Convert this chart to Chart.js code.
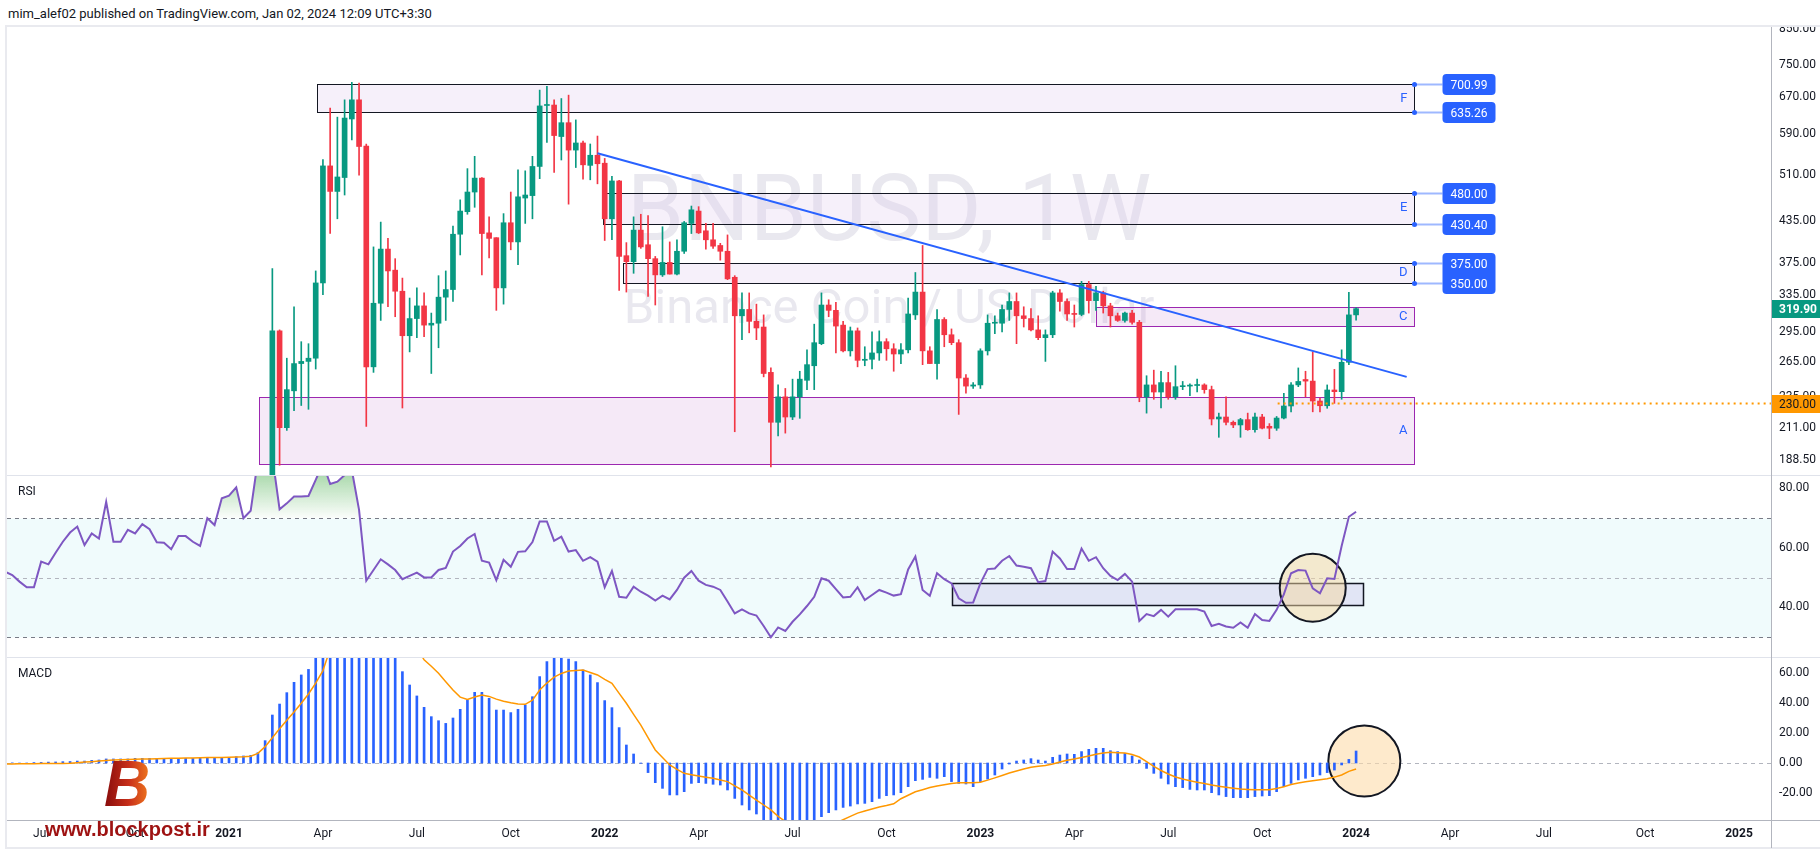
<!DOCTYPE html>
<html lang="en">
<head>
<meta charset="utf-8">
<title>BNBUSD, 1W</title>
<script src="https://cdn.jsdelivr.net/npm/chart.js@4.4.1/dist/chart.umd.min.js"></script>
<style>
  html, body { margin: 0; padding: 0; background: #ffffff; }
  body { position: relative; width: 1820px; height: 860px; overflow: hidden; font-family: Roboto, "Noto Sans", sans-serif; color: #131722; }
  .abs { position: absolute; }
  #frame { left: 5px; top: 25px; width: 1815px; height: 824px; border: 2px solid #e9eaef; border-right: none; box-sizing: border-box; }
  .sep { position: absolute; background: #e0e3eb; }
  #header { left: 8px; top: 6px; font-size: 13px; line-height: 16px; white-space: nowrap; }
  .wm { left: 7px; width: 1764px; text-align: center; color: #e9e8ef; white-space: nowrap; line-height: 1; }
  #wm1 { top: 163px; font-size: 92px; }
  #wm2 { top: 282px; font-size: 49px; }
  canvas { position: absolute; left: 7px; }
  .pane-title { left: 18px; font-size: 12px; line-height: 14px; }
  #logoB { left: 104px; top: 752px; font: italic bold 64px "Liberation Sans", "DejaVu Sans", sans-serif; line-height: 64px;
           background: linear-gradient(90deg, #860b0b 0%, #c9301a 55%, #f07a1e 100%); -webkit-background-clip: text; background-clip: text; color: transparent; }
  #logoText { left: 45px; top: 819px; font: bold 20px "Liberation Sans", sans-serif; line-height: 20px; color: #9e1212; white-space: nowrap; }
</style>
</head>
<body>
<div id="frame" class="abs"></div>
<div id="header" class="abs">mim_alef02 published on TradingView.com, Jan 02, 2024 12:09 UTC+3:30</div>
<div id="wm1" class="abs wm">BNBUSD, 1W</div>
<div id="wm2" class="abs wm">Binance Coin / US Dollar</div>
<div class="sep" style="left:7px; top:475px; width:1813px; height:1px;"></div>
<div class="sep" style="left:7px; top:657px; width:1813px; height:1px;"></div>
<div class="sep" style="left:7px; top:820px; width:1813px; height:1px; background:#b2b5be;"></div>
<div class="sep" style="left:1771px; top:27px; width:1px; height:821px; background:#b2b5be;"></div>
<canvas id="priceChart" width="1813" height="448" style="top:27px"></canvas>
<canvas id="rsiChart" width="1813" height="181" style="top:476px"></canvas>
<canvas id="macdChart" width="1813" height="190" style="top:658px"></canvas>
<div class="abs pane-title" style="top:484px">RSI</div>
<div class="abs pane-title" style="top:666px">MACD</div>
<div id="logoB" class="abs">B</div>
<div id="logoText" class="abs">www.blockpost.ir</div>
<script>
// Weekly bars, x = days from 1 Jan 2021 (bar opens on Monday)
const FIRST_MONDAY = -214;   // 1 Jun 2020
const weekDays = Array.from({ length: 188 }, (_, k) => FIRST_MONDAY + 7 * k);
const CANDLE_OFFSET = 37;    // first candle in view: 15 Feb 2021

const open = [
  130,296,211,240,264,266,269,350,527,482,
  506,621,664,565,261,326,394,366,340,291,
  309,323,302,304,333,342,415,449,481,505,
  417,410,344,432,404,471,475,526,651,652,
  584,613,557,571,528,547,532,438,500,385,
  377,421,400,381,360,376,361,391,431,450,
  420,407,399,391,357,312,319,306,300,256,
  215,235,219,235,249,262,283,324,318,302,
  276,296,267,268,274,285,278,273,277,313,
  339,276,264,308,292,284,251,244,245,276,
  304,304,319,328,312,309,297,289,292,338,
  328,314,313.5,348,329,338,323,312,307,315,
  305,235,245,239,247,235,243.5,244,244.5,245,
  241,217.5,219,215,213,217,209.5,219,212,210.6,
  218.2,227.6,245,249.7,248.3,231.6,227.8,240.7,239.3,265.2,
  313
];
const high = [
  368,297,269,322,285,283,365,539,645,625,
  664,706,704,569,397,433,409,381,356,332,
  344,338,315,359,365,427,468,522,545,506,
  441,410,446,481,520,518,545,687,696,664,
  667,675,619,575,569,585,541,508,501,403,
  441,445,443,384,426,404,407,434,458,457,
  431,431,402,414,359,338,338,325,313,260,
  245,242,250,257,277,303,338,330,327,306,
  300,299,280,295,296,288,283,283,332,363,
  399,280,319,310,298,287,254,247,278,313,
  312,324,338,338,322,320,312,297,340,342,
  331,324,352,352,346,340,326,315,316,318,
  307,253,258,257,256,262,248,246,250,246,
  244,222,235,216,218,222,222,221,214,219.4,
  238,247,260,257,275,234,245,258.7,277,338.8,
  321
];
const low = [
  125,185,209,224,228,225,259,336,416,438,
  476,577,510,212,256,307,322,311,226,275,
  289,290,255,279,307,328,386,445,456,360,
  382,318,325,393,373,431,438,504,572,515,
  538,461,524,503,502,495,406,407,341,339,
  362,395,334,324,358,361,360,388,416,416,
  394,395,379,354,208,287,294,287,252,184,
  205,207,217,218,241,241,282,311,274,275,
  271,261,262,259,267,267,257,264,274,308,
  263,264,250,280,282,221,238,242,242,272,
  293,295,307,283,300,296,287,266,289,317,
  307,300,312,315,318,315,300,306,305,303,
  231,222,233,226,233,233,241,236,239,238,
  213,204,213,211,204,209,207.6,210,203,209,
  217.5,223,243.5,235,223,223,225.8,229.7,233,263,
  307.4
];
const close = [
  296,211,241,264,266,269,350,527,482,507,
  623,664,564,261,326,394,365,340,291,309,
  323,302,304,333,342,415,450,481,505,416,
  409,344,432,404,473,476,526,650,652,586,
  613,557,571,529,547,531,438,500,384,377,
  421,397,381,360,376,361,391,432,452,417,
  407,398,391,355,312,319,306,299,255,215,
  235,219,235,250,263,284,324,318,301,276,
  296,267,268,274,285,278,273,277,314,339,
  276,264,308,292,284,251,244,245,276,304,
  304.4,319,328,312,309,297,289,292,338,328,
  314,313.5,348,329,338,323,312,307,315,305,
  235,245,239,247,235,243.5,244,244.5,245,241,
  217.5,219,215,213,217,209.5,219,210.6,210.6,218.2,
  227.6,245,248,248.3,231.6,227.8,240.7,239.3,265.2,313,
  319.9
];

const rsi = [
  52,50.9,48.7,46.8,46.8,55.4,54.5,58.4,62.1,65.2,
  67.2,61.0,64.9,63.2,75.5,62.1,62.1,66.1,64.9,68.0,
  66.3,61.9,61.8,59.6,64.0,64.0,62.1,60.7,70.0,67.7,
  76.7,77.6,80.4,70.0,72.5,89.6,91.8,90.7,73.0,75.0,
  77.3,77.3,77.5,82.9,88.5,81.5,82.3,84.5,86.2,72.8,
  49.0,52.6,56.2,54.5,52.6,49.5,50.6,51.7,50.1,50.1,
  52.6,53.3,58.8,60.7,63.2,64.7,55.7,55.1,49.2,56.0,
  53.7,58.7,58.9,62.0,68.9,68.9,62.4,63.8,58.8,59.3,
  55.7,56.9,55.4,46.8,52.3,43.6,43.3,47.0,45.3,44.0,
  42.3,44.0,42.7,45.9,50.0,52.3,49.0,47.6,47.0,45.9,
  42.0,38.0,39.4,38.0,37.3,33.8,30.0,33.3,32.1,35.2,
  37.7,40.5,43.6,49.8,49.0,46.2,43.4,43.6,46.8,42.5,
  44.2,45.9,45.0,44.0,44.5,52.8,57.1,45.9,43.9,51.5,
  49.5,48.1,43.1,41.6,41.7,48.1,52.9,53.1,55.7,57.3,
  54.1,53.7,53.2,48.5,48.9,58.8,56.5,52.9,52.9,59.8,
  55.7,56.9,53.2,50.6,49.2,51.3,48.7,35.5,37.8,37.1,
  39.2,36.9,39.4,39.4,39.4,39.4,38.6,33.8,34.5,33.6,
  33.2,35.0,33.2,37.8,35.8,35.5,39.2,44.4,51.5,52.6,
  52.4,46.4,44.8,49.8,49.6,60.7,70.5,72.2
];

const macd = [
  0.2,0.1,0.0,-0.2,0.3,0.4,0.6,0.7,0.9,1.0,
  1.3,1.3,1.8,2.0,2.7,2.7,2.7,2.7,3.1,3.1,
  3.1,3.1,3.1,3.1,3.1,3.1,3.1,3.1,3.1,3.3,
  3.6,3.8,4.2,4.7,5.1,6.9,14.9,32.0,39.3,46.9,
  53.8,58.7,62.4,80,95,110,125,135,140,140,
  135,125,110,95,78,60.9,52.0,44.7,37.1,30.9,
  28.2,26.4,30.0,35.8,42.0,47.1,47.1,43.1,35.3,35.3,
  33.6,35.8,38.7,44.2,57.6,67.6,69.8,70.4,69.3,67.6,
  62.0,58.7,53.6,41.6,36.9,23.6,12.0,6.0,-0.2,-6.4,
  -13.1,-16.9,-21.3,-21.3,-19.1,-13.6,-13.1,-13.6,-14.2,-14.7,
  -18.0,-23.6,-28.0,-31.3,-34.0,-39,-43,-46,-48,-48,
  -46,-43,-40,-35.8,-33.1,-31.3,-29.6,-28.7,-27.3,-26.9,
  -25.8,-23.6,-21.8,-21.3,-19.8,-15.8,-11.8,-10.9,-9.6,-10.2,
  -9.1,-12.4,-13.6,-14.0,-15.8,-12.4,-10.7,-8.0,-4.0,-0.7,
  1.3,2.0,2.9,2.0,1.3,3.8,5.3,6.0,5.8,7.6,
  9.1,9.8,9.8,8.2,7.6,6.4,4.7,2.0,-3.6,-6.9,
  -10.2,-14.0,-15.8,-16.4,-17.6,-18.0,-18.0,-19.8,-21.3,-22.4,
  -23.1,-23.1,-23.1,-22.4,-22.0,-21.8,-19.1,-15.8,-13.6,-11.3,
  -10.2,-9.1,-8.0,-6.4,-4.7,-1.3,2.4,8.0
];
const signal = [
  -0.6,-0.6,-0.5,-0.5,-0.5,-0.4,-0.4,-0.3,-0.3,-0.2,
  0.2,0.6,0.9,1.3,1.7,2.0,2.2,2.3,2.5,2.6,
  2.7,2.9,3.0,3.1,3.2,3.3,3.4,3.5,3.6,3.6,
  3.7,3.8,4.0,4.1,4.5,6.4,10.9,16.8,22.9,28.5,
  34.0,39.8,46.0,53.2,61.6,76,86,95,103,109,
  113,115,114,110,103,95,86,77,68.8,64.5,
  59.8,54.2,48.7,43.9,42.4,44.0,45.3,44.4,42.6,41.2,
  40.1,39.3,39.1,41.9,48.7,53.3,57.2,59.7,61.3,61.7,
  62.0,60.3,58.7,55.8,53.1,46.4,39.8,32.4,25.3,16.9,
  8.7,3.6,-1.3,-4.2,-6.9,-7.8,-8.7,-9.5,-10.2,-11.3,
  -12.4,-15.2,-18.0,-21.4,-24.7,-28.0,-31.3,-35.6,-39,-42,
  -44,-45,-45,-44,-42,-40,-37.8,-35.6,-33.4,-32.0,
  -30.7,-29.4,-28.4,-27.2,-23.8,-21.5,-19.2,-17.8,-16.4,-15.3,
  -14.5,-13.6,-13.1,-13.1,-13.1,-12.8,-11.4,-9.9,-8.3,-6.7,
  -5.3,-4.0,-2.9,-2.2,-1.6,-0.6,0.6,1.8,2.7,3.6,
  4.7,5.9,6.6,7.1,6.9,6.6,5.6,4.0,0.9,-2.2,
  -5.0,-7.3,-9.3,-10.7,-11.8,-12.8,-13.7,-14.6,-15.5,-16.2,
  -16.8,-17.3,-17.6,-17.8,-17.9,-17.8,-17.0,-15.8,-14.4,-13.3,
  -12.5,-11.8,-11.1,-10.5,-9.4,-8.0,-5.6,-4.0
];

// axis ticks (first weekly bar of each quarter)
const timeTickDays = [-179, -88, 3, 94, 185, 276, 367, 458, 549, 640, 731, 822, 913, 1004, 1095, 1186, 1277, 1375, 1466];
const timeTickLabels = ['Jul','Oct','2021','Apr','Jul','Oct','2022','Apr','Jul','Oct','2023','Apr','Jul','Oct','2024','Apr','Jul','Oct','2025'];
const priceTicks = [188.5, 211, 235, 265, 295, 335, 375, 435, 510, 590, 670, 750, 850];
const rsiTicks = [40, 60, 80];
const macdTicks = [-20, 0, 20, 40, 60];

// drawings
const zoneNames = ['F', 'E', 'D', 'C', 'A'];
const zoneHigh = [700.99, 480.00, 375.00, 322, 235];
const zoneLow = [635.26, 430.40, 350.00, 301, 186];
const zoneFromDay = [88, 365, 385, 843, 32];
const zoneToDay = 1151;
const zoneLabelled = [true, true, true, false, false];
const trendDays = [360, 1144];
const trendPrices = [551, 252];
const levelPrice = 230;
const levelFromDay = 1019;
const rsiBoxDays = [703.5, 1101.7];
const rsiBoxValues = [48.3, 40.7];
const rsiMark = [1053, 46.6];
const macdMark = [1103, 1.3];

// view ranges
const X_MIN = -212.1, X_MAX = 1497;
const PRICE_MIN = 178.8, PRICE_MAX = 856.6;
const RSI_MIN = 23.36, RSI_MAX = 84.2;
const MACD_MIN = -38, MACD_MAX = 70;

const UP = '#089981', DOWN = '#f23645', BLUE = '#2962ff';
const ZONE_FILL = ['rgba(225,205,240,0.3)', 'rgba(225,205,240,0.3)', 'rgba(225,205,240,0.3)', 'rgba(206,147,216,0.2)', 'rgba(206,147,216,0.2)'];
const ZONE_LINE = ['#131722', '#131722', '#131722', '#9c27b0', '#9c27b0'];

Chart.defaults.font.family = 'Roboto, "Noto Sans", sans-serif';
Chart.defaults.font.size = 12;
Chart.defaults.color = '#131722';
Chart.defaults.animation = false;
Chart.defaults.plugins.legend.display = false;
Chart.defaults.plugins.tooltip.enabled = false;

function xAxis(show) {
  return {
    type: 'linear', min: X_MIN, max: X_MAX, offset: false, display: show,
    grid: { display: false, drawTicks: false, offset: false },
    border: { display: false },
    ticks: {
      autoSkip: false, maxRotation: 0, padding: 7, color: '#131722',
      font: ctx => {
        const i = ctx.tick ? timeTickDays.indexOf(ctx.tick.value) : -1;
        return { size: 12, weight: i >= 0 && /^\d{4}$/.test(timeTickLabels[i]) ? 'bold' : 'normal' };
      },
      callback: v => {
        const i = timeTickDays.indexOf(v);
        return i >= 0 ? timeTickLabels[i] : '';
      }
    },
    afterBuildTicks: s => { s.ticks = timeTickDays.map(v => ({ value: v })); },
    afterFit: s => {
      s.height = show ? 28 : 0;
      s.paddingLeft = 0;
      s.paddingRight = 0;
    }
  };
}

function yAxis(type, min, max, ticks) {
  return {
    type: type, position: 'right', min: min, max: max,
    grid: { display: false, drawTicks: false },
    border: { display: false },
    ticks: { autoSkip: false, padding: 8, color: '#131722', font: { size: 12 }, callback: v => Number(v).toFixed(2) },
    afterBuildTicks: s => { s.ticks = ticks.map(v => ({ value: v })); },
    afterFit: s => { s.width = 49; s.paddingTop = 0; s.paddingBottom = 0; }
  };
}

function tag(ctx, x0, py, text, bg, fg, bold) {
  ctx.fillStyle = bg;
  ctx.fillRect(x0, Math.round(py) - 9, 49, 18);
  ctx.fillStyle = fg;
  ctx.font = (bold ? 'bold ' : '') + '12px Roboto, sans-serif';
  ctx.textAlign = 'left';
  ctx.textBaseline = 'middle';
  ctx.fillText(text, x0 + 7, Math.round(py) + 1);
}

const priceDecor = {
  id: 'priceDecor',
  beforeDatasetsDraw(chart) {
    const { ctx, scales: { x, y } } = chart;
    ctx.save();
    zoneNames.forEach((name, i) => {
      const x1 = Math.round(x.getPixelForValue(zoneFromDay[i])) + 0.5;
      const x2 = Math.round(x.getPixelForValue(zoneToDay)) + 0.5;
      const y1 = Math.round(y.getPixelForValue(zoneHigh[i])) + 0.5;
      const y2 = Math.round(y.getPixelForValue(zoneLow[i])) + 0.5;
      ctx.fillStyle = ZONE_FILL[i];
      ctx.fillRect(x1, y1, x2 - x1, y2 - y1);
      ctx.strokeStyle = ZONE_LINE[i];
      ctx.lineWidth = 1;
      ctx.strokeRect(x1, y1, x2 - x1, y2 - y1);
    });
    ctx.restore();
  },
  afterDatasetsDraw(chart) {
    const { ctx, chartArea: a, scales: { x, y } } = chart;
    ctx.save();
    const xr = Math.round(x.getPixelForValue(zoneToDay)) + 0.5;

    // zone letters
    ctx.font = '13px Roboto, sans-serif';
    ctx.textAlign = 'right';
    ctx.textBaseline = 'middle';
    ctx.fillStyle = BLUE;
    zoneNames.forEach((name, i) => {
      const y1 = y.getPixelForValue(zoneHigh[i]);
      const y2 = y.getPixelForValue(zoneLow[i]);
      ctx.fillText(name, xr - 7, (y1 + y2) / 2);
    });

    // price range labels
    zoneNames.forEach((name, i) => {
      if (!zoneLabelled[i]) return;
      const ys = [Math.round(y.getPixelForValue(zoneHigh[i])) + 0.5, Math.round(y.getPixelForValue(zoneLow[i])) + 0.5];
      const bx = xr + 28, bw = 53, bh = 21;
      ctx.strokeStyle = 'rgba(41,98,255,0.45)';
      ctx.lineWidth = 2;
      ys.forEach(py => { ctx.beginPath(); ctx.moveTo(xr, py); ctx.lineTo(bx, py); ctx.stroke(); });
      ctx.fillStyle = BLUE;
      ys.forEach(py => { ctx.beginPath(); ctx.arc(xr, py, 2.5, 0, Math.PI * 2); ctx.fill(); });
      if (ys[1] - ys[0] < bh) {
        ctx.beginPath(); ctx.roundRect(bx, ys[0] - bh / 2, bw, ys[1] - ys[0] + bh, 4); ctx.fill();
      } else {
        ys.forEach(py => { ctx.beginPath(); ctx.roundRect(bx, py - bh / 2, bw, bh, 4); ctx.fill(); });
      }
      ctx.fillStyle = '#ffffff';
      ctx.textAlign = 'center';
      ctx.font = '12px Roboto, sans-serif';
      ctx.fillText(zoneHigh[i].toFixed(2), bx + bw / 2, ys[0] + 1);
      ctx.fillText(zoneLow[i].toFixed(2), bx + bw / 2, ys[1] + 1);
    });

    // horizontal level
    const yl = Math.round(y.getPixelForValue(levelPrice)) + 0.5;
    ctx.strokeStyle = '#ff9800';
    ctx.lineWidth = 2;
    ctx.setLineDash([2, 4]);
    ctx.beginPath();
    ctx.moveTo(x.getPixelForValue(levelFromDay), yl);
    ctx.lineTo(a.right, yl);
    ctx.stroke();
    ctx.setLineDash([]);

    // axis tags
    const last = close[close.length - 1];
    tag(ctx, a.right + 1, y.getPixelForValue(last), last.toFixed(2), UP, '#ffffff', true);
    tag(ctx, a.right + 1, yl, levelPrice.toFixed(2), '#ff9800', '#131722', false);
    ctx.restore();
  }
};

const rsiDecor = {
  id: 'rsiDecor',
  beforeDatasetsDraw(chart) {
    const { ctx, chartArea: a, scales: { x, y } } = chart;
    ctx.save();
    const y70 = Math.round(y.getPixelForValue(70)) + 0.5;
    const y50 = Math.round(y.getPixelForValue(50)) + 0.5;
    const y30 = Math.round(y.getPixelForValue(30)) + 0.5;
    ctx.fillStyle = 'rgba(0,188,212,0.06)';
    ctx.fillRect(a.left, y70, a.right - a.left, y30 - y70);
    ctx.lineWidth = 1;
    ctx.setLineDash([4, 4]);
    [[y70, '#787b86'], [y50, '#b2b5be'], [y30, '#787b86']].forEach(([py, c]) => {
      ctx.strokeStyle = c;
      ctx.beginPath(); ctx.moveTo(a.left, py); ctx.lineTo(a.right, py); ctx.stroke();
    });
    ctx.setLineDash([]);

    const bx1 = Math.round(x.getPixelForValue(rsiBoxDays[0])) + 0.5;
    const bx2 = Math.round(x.getPixelForValue(rsiBoxDays[1])) + 0.5;
    const by1 = Math.round(y.getPixelForValue(rsiBoxValues[0])) + 0.5;
    const by2 = Math.round(y.getPixelForValue(rsiBoxValues[1])) + 0.5;
    ctx.fillStyle = 'rgba(190,180,230,0.3)';
    ctx.fillRect(bx1, by1, bx2 - bx1, by2 - by1);
    ctx.strokeStyle = '#131722';
    ctx.lineWidth = 1.5;
    ctx.strokeRect(bx1, by1, bx2 - bx1, by2 - by1);

    ctx.beginPath();
    ctx.ellipse(x.getPixelForValue(rsiMark[0]), y.getPixelForValue(rsiMark[1]), 33, 34, 0, 0, Math.PI * 2);
    ctx.fillStyle = 'rgba(245,215,160,0.5)';
    ctx.fill();
    ctx.lineWidth = 2;
    ctx.strokeStyle = '#131722';
    ctx.stroke();
    ctx.restore();
  }
};

const macdDecor = {
  id: 'macdDecor',
  beforeDatasetsDraw(chart) {
    const { ctx, chartArea: a, scales: { x, y } } = chart;
    ctx.save();
    const y0 = Math.round(y.getPixelForValue(0)) + 0.5;
    ctx.strokeStyle = '#b2b5be';
    ctx.lineWidth = 1;
    ctx.setLineDash([4, 4]);
    ctx.beginPath(); ctx.moveTo(a.left, y0); ctx.lineTo(a.right, y0); ctx.stroke();
    ctx.setLineDash([]);
    ctx.beginPath();
    ctx.ellipse(x.getPixelForValue(macdMark[0]), y.getPixelForValue(macdMark[1]), 36, 35.5, 0, 0, Math.PI * 2);
    ctx.fillStyle = 'rgba(253,220,170,0.6)';
    ctx.fill();
    ctx.lineWidth = 2;
    ctx.strokeStyle = '#131722';
    ctx.stroke();
    ctx.restore();
  }
};

// price pane
const candleDays = weekDays.slice(CANDLE_OFFSET);
const candleColors = close.map((c, i) => c >= open[i] ? UP : DOWN);

new Chart(document.getElementById('priceChart'), {
  type: 'bar',
  data: {
    datasets: [
      {
        type: 'line',
        data: trendDays.map((d, i) => ({ x: d, y: trendPrices[i] })),
        borderColor: BLUE, borderWidth: 2, pointRadius: 0, order: 0
      },
      {
        data: candleDays.map((d, i) => ({ x: d, y: [open[i], close[i]] })),
        backgroundColor: candleColors, barThickness: 5, minBarLength: 1, grouped: false, order: 1
      },
      {
        data: candleDays.map((d, i) => ({ x: d, y: [low[i], high[i]] })),
        backgroundColor: candleColors, barThickness: 1, grouped: false, order: 2
      }
    ]
  },
  options: {
    responsive: false,
    layout: { padding: 0 },
    scales: { x: xAxis(false), y: yAxis('logarithmic', PRICE_MIN, PRICE_MAX, priceTicks) }
  },
  plugins: [priceDecor]
});

// RSI pane
new Chart(document.getElementById('rsiChart'), {
  type: 'line',
  data: {
    datasets: [{
      data: weekDays.map((d, k) => ({ x: d, y: rsi[k] })),
      borderColor: '#7e57c2', borderWidth: 2, pointRadius: 0, tension: 0,
      fill: { target: { value: 70 }, below: 'rgba(0,0,0,0)' },
      backgroundColor: c => {
        const area = c.chart.chartArea;
        if (!area) return 'rgba(0,0,0,0)';
        const y70 = c.chart.scales.y.getPixelForValue(70);
        const g = c.chart.ctx.createLinearGradient(0, area.top, 0, y70);
        g.addColorStop(0, 'rgba(76,175,80,0.45)');
        g.addColorStop(1, 'rgba(76,175,80,0.02)');
        return g;
      }
    }]
  },
  options: {
    responsive: false,
    layout: { padding: 0 },
    scales: { x: xAxis(false), y: yAxis('linear', RSI_MIN, RSI_MAX, rsiTicks) }
  },
  plugins: [rsiDecor]
});

// MACD pane
new Chart(document.getElementById('macdChart'), {
  type: 'bar',
  data: {
    datasets: [
      {
        type: 'line',
        data: weekDays.map((d, k) => ({ x: d, y: signal[k] })),
        borderColor: '#ff9800', borderWidth: 1.5, pointRadius: 0, order: 0
      },
      {
        data: weekDays.map((d, k) => ({ x: d, y: macd[k] })),
        backgroundColor: BLUE, barThickness: 2, order: 1
      }
    ]
  },
  options: {
    responsive: false,
    layout: { padding: 0 },
    scales: { x: xAxis(true), y: yAxis('linear', MACD_MIN, MACD_MAX, macdTicks) }
  },
  plugins: [macdDecor]
});
</script>
</body>
</html>
